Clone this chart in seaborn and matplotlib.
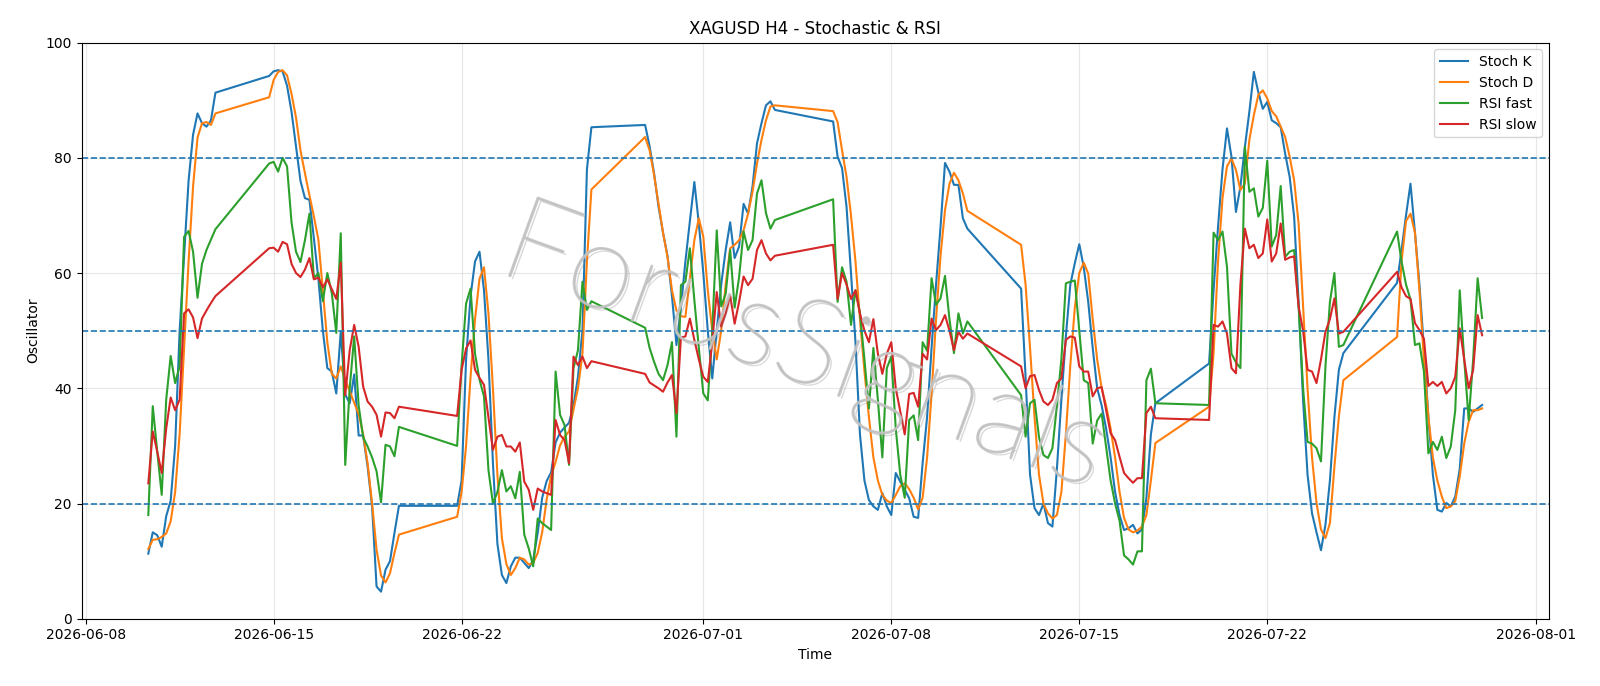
import matplotlib
matplotlib.use("Agg")
import matplotlib.pyplot as plt
import matplotlib.patheffects as pe
import pandas as pd
import seaborn as sns

# H4 trading sessions (weekends have no bars)
sessions = [
    ("2026-06-10 08:00", "2026-06-12 20:00"),
    ("2026-06-14 20:00", "2026-06-19 16:00"),
    ("2026-06-21 20:00", "2026-06-26 20:00"),
    ("2026-06-28 20:00", "2026-07-03 16:00"),
    ("2026-07-05 20:00", "2026-07-10 20:00"),
    ("2026-07-12 20:00", "2026-07-17 20:00"),
    ("2026-07-19 20:00", "2026-07-24 20:00"),
    ("2026-07-26 20:00", "2026-07-30 00:00"),
]

stoch_k = [
    11.3, 15.0, 14.5, 12.5, 17.8, 20.5, 30, 50, 63, 76, 84, 87.7, 86.0, 85.4, 86.5, 91.3,
    94.2, 95.0, 95.2, 95.0, 92.5, 88, 82, 76, 73.0, 72.7, 66, 59, 50, 43.5, 42.9, 39.1, 49.8, 38.9, 37.4, 42.4,
    31.8, 31.8, 26.4, 19.5, 5.6, 4.7, 8.5, 10.0, 14.9, 19.6,
    19.6, 24, 45, 56, 62, 63.7, 57, 45, 27, 13, 7.6, 6.2, 9.1, 10.6, 10.6, 9.7, 8.8, 10.2, 14.9, 21,
    23.9, 25.4, 30.6, 32.3, 33.2, 34, 37, 42, 50, 78, 85.3,
    85.7, 82, 77.3, 71.5, 67, 63, 56, 47.5, 54, 62, 69, 75.8, 68.6, 60, 50, 41.7, 50, 58, 64, 68.8,
    62.6, 64.6, 72.0, 70.3, 75, 82.5, 86, 89.1, 89.8, 88.3,
    86.3, 80.2, 78.2, 71.5, 60, 48, 32, 24, 20.6, 19.5, 18.9, 21.8, 19.5, 18.0, 25.3, 23.8, 22.4, 20.9, 17.7, 17.5,
    27, 35, 47, 58, 68, 79.1, 77.6, 75.3, 75.3, 69.5, 67.7,
    57.3, 42, 25, 19.2, 18.0, 20, 16.6, 16.0, 26, 38, 49, 58, 61.7, 65.0, 61, 55, 47, 40, 37, 33,
    28, 22, 18, 15.4, 15.7, 16.3, 14.8, 15.5, 21, 32, 37.4,
    44.3, 57, 68, 78, 85.1, 80.2, 70.6, 75, 81.9, 88, 94.9, 91.4, 88.5, 89.7, 86.5, 86.0, 85.3, 80.7, 76.7, 69.8,
    55, 38, 25, 18.3, 15, 11.9, 16.3, 24, 35, 43.2, 46.1,
    58.3, 64, 70, 75.5, 67, 58, 47, 35, 25, 18.9, 18.6, 20.1, 19.5, 21.2, 26, 36.5, 36.5, 35.9, 36.5, 37.1,
]

stoch_d = [
    12.1, 13.7, 13.8, 14.2, 14.8, 16.9, 22, 32, 47, 62, 75, 83.5, 86, 86.2, 85.7, 87.7,
    90.5, 93.5, 94.9, 95.2, 94.3, 91.1, 87.0, 81.3, 77.3, 73.5, 69.8, 65.8, 57, 48, 42.5, 41.7, 43.8, 41.5, 39.5, 37.5,
    35.5, 32, 27, 20, 12, 7.5, 6.3, 7.9, 11.4, 14.6,
    17.7, 22, 30, 42, 52, 59, 61.0, 53, 40, 25, 14, 9.5, 7.6, 8.8, 10.6, 10.3, 9.4, 9.7, 11.4, 15,
    20.7, 24.8, 27.2, 30.1, 31.6, 32.5, 36.3, 40, 46, 62, 74.5,
    83.6, 81.3, 77, 72, 67, 62.8, 57, 53.5, 52.5, 52.4, 59, 65.7, 69.5, 66.3, 57, 50, 45, 50, 58, 64.3,
    64.9, 65.7, 67.4, 70.3, 74.1, 79, 83.1, 86.5, 88.9, 89.1,
    88.1, 86.2, 81.3, 76.7, 70, 62, 52, 43, 35, 28, 24, 21.5, 20.5, 20.1, 21.5, 23.0, 23.5, 22.5, 21, 19.0,
    21, 28, 39, 52, 63, 70.9, 75.5, 77.4, 76.1, 73.8, 70.8,
    64.9, 58, 47, 35, 25, 20, 18.3, 17.4, 18, 22, 32, 44, 54, 60, 61.8, 59.9, 52, 45, 40, 37,
    33, 28, 22, 17.5, 15.5, 15, 15.3, 16, 18, 24, 30.5,
    36.8, 46, 62, 73, 78.5, 79.9, 77.9, 74.4, 75.5, 83.1, 87.4, 90.9, 91.7, 90.3, 88.1, 87.2, 85.4, 83.6, 80.2, 76.1,
    68.6, 54.2, 40, 28, 20.1, 15.5, 14.0, 16.6, 26.4, 35.1, 41.4,
    48.9, 62, 69, 70.3, 67, 57, 45, 35, 28, 24, 21.2, 19.2, 19.5, 20.4, 24.7, 30.4, 34.2, 36.2, 36.2, 36.5,
]

rsi_fast = [
    18.0, 36.9, 29, 21.5, 38, 45.6, 40.9, 43.8, 66.3, 67.3, 63.7, 55.7, 61.6, 64, 65.8, 67.6,
    79.0, 79.3, 77.6, 80.0, 78.5, 68.8, 63.7, 61.9, 65.7, 70.3, 59.1, 60.0, 55.1, 60, 56.5, 49.6, 66.9, 26.7, 40, 49,
    37, 31.5, 29.9, 28, 25.6, 20.2, 30.2, 29.9, 28.2, 33.3,
    30.0, 44, 54.7, 57.3, 46, 41.5, 38.6, 25.8, 20.0, 22, 25.8, 22.1, 23.0, 20.9, 25.5, 14.6, 12.2, 9.1, 17.4, 16.6,
    16, 15.4, 42.9, 35.4, 33.6, 26.7, 43.5, 46.6, 58.5, 53.6, 55.1,
    50.5, 47, 44.6, 42.5, 41.4, 44, 48, 31.6, 57.9, 58.5, 64.3, 55.3, 47, 39.1, 37.9, 50, 67.4, 54.2, 56.4, 64.0,
    54, 59.3, 67.2, 64.0, 65.7, 73.8, 76.1, 70.4, 67.7, 69.2,
    72.8, 55, 61, 58.5, 51, 57, 53, 45, 36.5, 47, 38, 28, 43.5, 45.5, 33, 25, 21, 34.5, 35.3, 31,
    48, 46.5, 59.1, 54.5, 55.6, 59.5, 52, 46.1, 53.0, 49.5, 51.6,
    38.8, 31.6, 37.4, 38.0, 31.5, 28.4, 27.9, 29.6, 37, 45, 58.2, 58.5, 58.7, 50, 41.4, 40.9, 30.4, 34.4, 35.6, 29.8,
    24, 20, 17, 11.0, 10.3, 9.4, 11.7, 11.7, 41.4, 43.4, 37.4,
    37.1, 67.0, 65.7, 67.2, 61.1, 46, 44.5, 43.5, 81.9, 74.1, 74.7, 69.8, 71.3, 79.5, 64.6, 66.6, 75.1, 62.8, 63.7, 64.0,
    54.2, 40, 30.7, 30.4, 29.6, 27.3, 43.8, 55, 60.0, 47.2, 47.5,
    67.2, 62, 58, 55.4, 47.5, 47.8, 42.9, 28.7, 30.7, 29.3, 31.6, 27.9, 29.9, 36.2, 57.0, 45, 34.5, 45, 59.1, 52.2,
]

rsi_slow = [
    23.5, 32.5, 29, 25.3, 33, 38.4, 36.2, 38, 53, 53.7, 52.3, 48.7, 52.1, 53.5, 54.8, 56.0,
    64.3, 64.4, 63.7, 65.4, 65.0, 61.6, 60.0, 59.3, 60.6, 62.6, 58.9, 59.2, 57.5, 58.9, 57.2, 55.5, 61.8, 38.8, 46.6, 51.0,
    47.2, 40.3, 37.7, 36.8, 35.4, 31.6, 35.8, 35.7, 34.8, 36.8,
    35.2, 43.2, 46.9, 48.3, 43.2, 41.8, 40.6, 35, 29.3, 31.6, 31.9, 29.9, 29.9, 29.0, 30.6, 23.8, 22.4, 18.9, 22.6, 22.1,
    21.8, 21.5, 34.5, 31.9, 31.0, 27.0, 45.5, 44, 45.5, 43.5, 44.7,
    42.5, 41, 40.5, 40, 39.4, 41, 42.3, 35.7, 48.8, 49.0, 52.1, 48.4, 45, 42.0, 41.1, 48, 56.7, 50.7, 53, 56.1,
    51.2, 55, 59.4, 57.9, 59.0, 64, 65.7, 63.4, 62.2, 63.0,
    64.9, 55.5, 60, 58, 55.5, 57, 53, 50, 48, 52, 46, 42.5, 46, 48, 40, 36, 32, 39, 39.2, 36.8,
    46, 45, 52.1, 50.1, 51, 52.7, 50, 46.6, 49.8, 48.6, 49.5,
    43.8, 40, 42.1, 42.3, 39.7, 37.7, 37.1, 38.0, 40.9, 41.7, 48.4, 49, 48.8, 43.8, 42.9, 42.9, 38.6, 40, 40.2, 36.2,
    32.2, 31.0, 28.1, 25.3, 24.4, 23.6, 24.4, 24.4, 35.7, 36.8, 34.8,
    34.5, 51, 50.7, 51.6, 49.5, 43.5, 42.6, 58, 67.7, 64.3, 64.9, 62.6, 63.4, 69.3, 62.0, 63.4, 68.6, 62.3, 62.7, 62.9,
    54.2, 50, 43.2, 42.9, 40.9, 45, 49.8, 52, 55.6, 49.5, 49.8,
    60.2, 57.5, 56, 55.5, 51.3, 50.1, 48.6, 40.4, 41.1, 40.4, 41.1, 39.1, 40.0, 42.0, 50.4, 45, 40.0, 43.2, 52.7, 49.2,
]

levels = [20, 50, 80]

times = pd.DatetimeIndex([t for start, end in sessions for t in pd.date_range(start, end, freq="4h")])
df = pd.DataFrame({
    "time": times,
    "Stoch K": stoch_k,
    "Stoch D": stoch_d,
    "RSI fast": rsi_fast,
    "RSI slow": rsi_slow,
})

fig, ax = plt.subplots(figsize=(16, 6.86), dpi=100)
fig.subplots_adjust(left=0.051, right=0.968, bottom=0.098, top=0.938)

colors = ["#1f77b4", "#ff7f0e", "#2ca02c", "#d62728"]
for col, color in zip(["Stoch K", "Stoch D", "RSI fast", "RSI slow"], colors):
    sns.lineplot(data=df, x="time", y=col, ax=ax, label=col, color=color, linewidth=1.5)

for lvl in levels:
    ax.axhline(lvl, color="#1f77b4", linestyle="--", linewidth=1.2)

ax.set_ylim(0, 100)
ax.set_title("XAGUSD H4 - Stochastic & RSI", fontsize=12)
ax.set_xlabel("Time")
ax.set_ylabel("Oscillator")
ax.grid(True, alpha=0.3)
ax.legend(loc="upper right")

# watermark
fig.text(0.503, 0.49, "ForusSignals", fontsize=86, rotation=-20, ha="center", va="center",
         family=["Lato", "DejaVu Sans"], fontweight="light",
         color="#c2c2c2", alpha=0.8, zorder=10,
         path_effects=[pe.SimplePatchShadow(offset=(2, -2), shadow_rgbFace="#808080", alpha=0.3),
                       pe.Stroke(linewidth=1.3, foreground="#c2c2c2"),
                       pe.Normal()])

fig.savefig("out.png", dpi=100)
